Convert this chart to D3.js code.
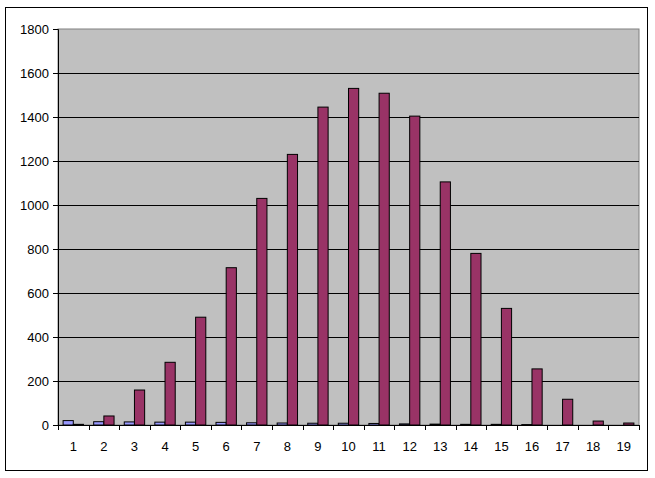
<!DOCTYPE html>
<html>
<head>
<meta charset="utf-8">
<script src="https://cdn.jsdelivr.net/npm/d3@7"></script>
<style>
	body { margin: 0; background: #fff; }
	text { font-family: Arial, "Liberation Sans", sans-serif; font-size: 13px; fill: #000; }
</style>
</head>
<body>
<div class="chart"></div>
<script>
const categories = ["1","2","3","4","5","6","7","8","9","10","11","12","13","14","15","16","17","18","19"];
const seriesA = [20, 15, 14, 13, 13, 12, 10, 9, 8, 8, 7, 5, 4, 3, 3, 2, 0, 0, 0];
const seriesB = [3, 41, 159, 285, 490, 715, 1030, 1230, 1445, 1530, 1508, 1404, 1105, 780, 530, 255, 117, 18, 9];
const yTicks = [0, 200, 400, 600, 800, 1000, 1200, 1400, 1600, 1800];

var w = 655,
	h = 478,
	plotLeft = 58,
	plotRight = 639,
	plotTop = 29,
	plotBottom = 425;

const svg = d3.select(".chart").append("svg").attr("width", w).attr("height", h);

// outer frame
svg.append("rect")
	.attr("x", 5.5).attr("y", 7.5)
	.attr("width", 642).attr("height", 463)
	.attr("fill", "none").attr("stroke", "#000");

const x = d3.scaleBand().domain(categories).range([plotLeft, plotRight]).paddingInner(1 / 3).paddingOuter(1 / 6);
const xSub = d3.scaleBand().domain(["a", "b"]).range([0, x.bandwidth()]);
const y = d3.scaleLinear().domain([0, 1800]).range([plotBottom, plotTop]);

// plot area
svg.append("rect")
	.attr("x", plotLeft).attr("y", plotTop)
	.attr("width", plotRight - plotLeft).attr("height", plotBottom - plotTop)
	.attr("fill", "#c0c0c0").attr("stroke", "#808080");

// gridlines
svg.append("g")
	.selectAll("line")
	.data(yTicks.filter((d) => d > 0 && d < 1800))
	.enter()
	.append("line")
	.attr("x1", plotLeft).attr("x2", plotRight)
	.attr("y1", (d) => Math.round(y(d)) + 0.5)
	.attr("y2", (d) => Math.round(y(d)) + 0.5)
	.attr("stroke", "#000");

// bars
const groups = svg.append("g")
	.selectAll("g")
	.data(categories)
	.enter()
	.append("g")
	.attr("transform", (d) => "translate(" + x(d) + ",0)");

groups.append("rect")
	.attr("x", xSub("a"))
	.attr("y", (d, i) => y(seriesA[i]))
	.attr("width", xSub.bandwidth())
	.attr("height", (d, i) => plotBottom - y(seriesA[i]))
	.attr("fill", "#9999ff")
	.attr("stroke", "#000")
	.attr("stroke-width", (d, i) => (seriesA[i] > 0 ? 1 : 0));

groups.append("rect")
	.attr("x", xSub("b"))
	.attr("y", (d, i) => y(seriesB[i]))
	.attr("width", xSub.bandwidth())
	.attr("height", (d, i) => plotBottom - y(seriesB[i]))
	.attr("fill", "#993366")
	.attr("stroke", "#000");

// y axis
const yAxis = d3.axisLeft(y).tickValues(yTicks).tickFormat(d3.format("d")).tickSize(5).tickPadding(4);
const gy = svg.append("g").attr("transform", "translate(" + plotLeft + ",0)").call(yAxis);
gy.select(".domain").attr("stroke", "#000");
gy.selectAll("text").style("font-size", "13px").style("font-family", "Arial, 'Liberation Sans', sans-serif");

// x axis: ticks at category boundaries
const n = categories.length;
const gx = svg.append("g");
gx.append("line")
	.attr("x1", plotLeft).attr("x2", plotRight)
	.attr("y1", plotBottom + 0.5).attr("y2", plotBottom + 0.5)
	.attr("stroke", "#000");
gx.selectAll(".tk")
	.data(d3.range(n + 1))
	.enter()
	.append("line")
	.attr("x1", (i) => Math.round(plotLeft + (plotRight - plotLeft) * i / n) + 0.5)
	.attr("x2", (i) => Math.round(plotLeft + (plotRight - plotLeft) * i / n) + 0.5)
	.attr("y1", plotBottom).attr("y2", plotBottom + 5)
	.attr("stroke", "#000");
gx.selectAll("text")
	.data(categories)
	.enter()
	.append("text")
	.attr("x", (d) => x(d) + x.bandwidth() / 2)
	.attr("y", 451)
	.attr("text-anchor", "middle")
	.text((d) => d);
</script>
</body>
</html>
